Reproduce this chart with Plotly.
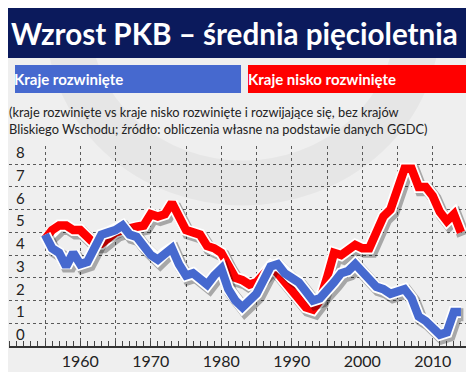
import plotly.graph_objects as go

# ---------------- data ----------------
years = list(range(1955, 2015))
developed = [4.9, 4.3, 4.1, 3.5, 4.1, 3.6, 3.7, 4.3, 4.9, 5.0,
             5.1, 5.3, 4.9, 4.8, 4.4, 4.0, 3.8, 4.1, 4.3, 3.6,
             3.1, 3.2, 2.9, 2.7, 3.1, 3.4, 2.5, 2.0, 1.7, 2.0,
             2.3, 2.9, 3.5, 3.6, 3.2, 3.0, 2.8, 2.4, 2.0, 2.1,
             2.4, 2.8, 3.2, 3.3, 3.6, 3.3, 2.9, 2.6, 2.5, 2.3,
             2.4, 2.5, 2.1, 1.3, 1.1, 0.8, 0.5, 0.6, 1.5, 1.5]
developing = [4.7, 5.1, 5.3, 5.3, 5.1, 5.1, 4.8, 4.5, 4.5, 4.8,
              5.0, 5.1, 5.2, 5.25, 5.3, 5.8, 5.7, 5.8, 6.3, 5.7,
              5.1, 5.0, 4.9, 4.4, 4.3, 4.1, 3.5, 3.0, 2.9, 2.7,
              2.8, 3.1, 3.5, 3.2, 2.8, 2.4, 2.0, 1.7, 1.6, 2.0,
              3.0, 4.1, 4.0, 4.2, 4.45, 4.3, 4.3, 5.0, 5.7, 6.0,
              6.9, 7.8, 7.8, 7.0, 7.0, 6.6, 5.9, 5.5, 5.8, 5.0]
series_names = ["Kraje rozwinięte", "Kraje nisko rozwinięte"]
x_tick_years = list(range(1955, 2020, 5))
x_tick_text = [str(y) if y % 10 == 0 else "" for y in x_tick_years]
y_ticks = list(range(0, 9))

title = "Wzrost PKB – średnia pięcioletnia"
subtitle = ("(kraje rozwinięte vs kraje nisko rozwinięte i rozwijające się, bez krajów<br>"
            "Bliskiego Wschodu; źródło: obliczenia własne na podstawie danych GGDC)")

BLUE = "#4669cf"
RED = "#ff0000"
NAVY = "#0b1a5c"
BG = "#efefef"

# ---------------- geometry helpers ----------------
W, H = 474, 372
Y_MAX = 8.8
PX_PER_UNIT = 22.75
L, R, B = 1, 6, 34
T = int(round(H - B - Y_MAX * PX_PER_UNIT))
pw, ph = W - L - R, H - T - B
PX_PER_YEAR = 7.05
X0 = 1955 - (37 - L) / PX_PER_YEAR
X1 = 1955 + (W - R - 37) / PX_PER_YEAR


def fx(p):
    return (p - L) / pw


def fy(p):
    return (H - B - p) / ph


fig = go.Figure()


def add_series(yvals, color):
    sx = [x + 0.35 for x in years]
    sy = [v - 0.13 for v in yvals]
    fig.add_trace(go.Scatter(x=sx, y=sy, mode="lines",
                             line=dict(color="rgba(0,0,0,0.3)", width=13),
                             hoverinfo="skip", showlegend=False))
    fig.add_trace(go.Scatter(x=years, y=yvals, mode="lines",
                             line=dict(color="white", width=12),
                             hoverinfo="skip", showlegend=False))
    fig.add_trace(go.Scatter(x=years, y=yvals, mode="lines",
                             line=dict(color=color, width=8.5),
                             showlegend=False))


add_series(developing, RED)
add_series(developed, BLUE)

shapes = []
# faint watermark ring
shapes.append(dict(type="circle", xref="paper", yref="paper",
                   x0=fx(60), x1=fx(410), y0=fy(175), y1=fy(-150),
                   line=dict(color="rgba(0,0,0,0.035)", width=45),
                   fillcolor="rgba(0,0,0,0)", layer="below"))
# title band
shapes.append(dict(type="rect", xref="paper", yref="paper",
                   x0=fx(0), x1=fx(W), y0=fy(50), y1=fy(0),
                   fillcolor=NAVY, line=dict(width=0), layer="below"))
# legend boxes
shapes.append(dict(type="rect", xref="paper", yref="paper",
                   x0=fx(7), x1=fx(233), y0=fy(85), y1=fy(57),
                   fillcolor=BLUE, line=dict(width=0), layer="below"))
shapes.append(dict(type="rect", xref="paper", yref="paper",
                   x0=fx(240), x1=fx(468), y0=fy(85), y1=fy(57),
                   fillcolor=RED, line=dict(width=0), layer="below"))

annotations = [
    dict(text="<b>" + title + "</b>", xref="paper", yref="paper",
         x=fx(1), y=fy(25), xanchor="left", yanchor="middle", showarrow=False,
         font=dict(family="Lato", size=29.6, color="white")),
    dict(text="<b>" + series_names[0] + "</b>", xref="paper", yref="paper",
         x=fx(4), y=fy(71), xanchor="left", yanchor="middle", showarrow=False,
         font=dict(family="Lato", size=15, color="white")),
    dict(text="<b>" + series_names[1] + "</b>", xref="paper", yref="paper",
         x=fx(238), y=fy(71), xanchor="left", yanchor="middle", showarrow=False,
         font=dict(family="Lato", size=15, color="white")),
    dict(text=subtitle, xref="paper", yref="paper", align="left",
         x=fx(-1), y=fy(112), xanchor="left", yanchor="middle", showarrow=False,
         font=dict(family="Lato", size=12.8, color="#222222")),
]
# y tick labels placed just above each gridline
for v in y_ticks:
    annotations.append(dict(text=str(v), xref="paper", yref="y",
                            x=fx(6), y=v, xanchor="left", yanchor="bottom",
                            yshift=1, showarrow=False,
                            font=dict(family="Lato", size=15, color="#222222")))

fig.update_layout(
    width=W, height=H,
    margin=dict(l=L, r=R, t=T, b=B),
    paper_bgcolor=BG, plot_bgcolor="rgba(0,0,0,0)",
    shapes=shapes, annotations=annotations,
    showlegend=False,
    font=dict(family="Lato", color="#222222"),
    xaxis=dict(range=[X0, X1], autorange=False, tickmode="array",
               tickvals=x_tick_years, ticktext=x_tick_text,
               ticks="", showgrid=True, gridcolor="#5a5a5a", griddash="dot",
               gridwidth=1, showline=True, linecolor="#333333", linewidth=1.5,
               zeroline=False, tickfont=dict(size=16, color="#222222"),
               minor=dict(dtick=1, tick0=1955, ticks="inside", ticklen=5,
                          tickcolor="#444444", tickwidth=1, showgrid=False)),
    yaxis=dict(range=[0, Y_MAX], autorange=False, tickmode="array", tickvals=y_ticks,
               showgrid=True, gridcolor="#5a5a5a", griddash="dot", gridwidth=1,
               zeroline=False, showline=False, ticks="", showticklabels=False),
)

fig.write_html("out.html")
